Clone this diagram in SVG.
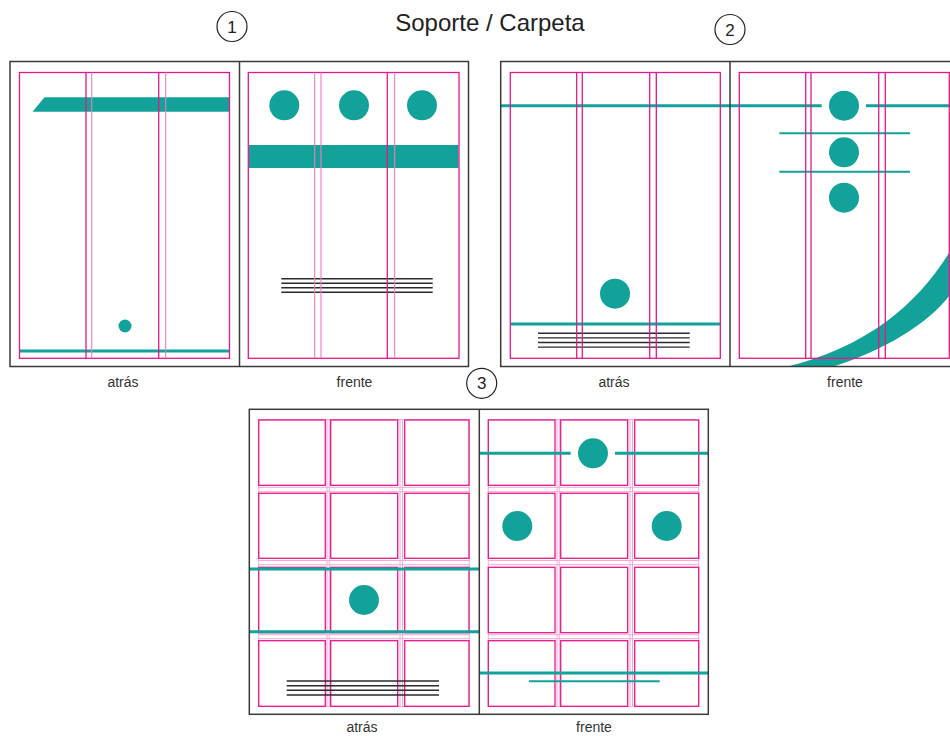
<svg xmlns="http://www.w3.org/2000/svg" width="950" height="736" viewBox="0 0 950 736">
<style>
.frame{fill:none;stroke:#3a3a3a;stroke-width:1.5}
.pk{fill:none;stroke:#e8168b;stroke-width:1.3}
.pkl{fill:none;stroke:#f27bbd;stroke-width:1.1}
.pkf{fill:none;stroke:#f7a8d4;stroke-width:1}
.teal{fill:#13a29a}
.tl{stroke:#13a29a;stroke-width:3;fill:none}
.tlt{stroke:#13a29a;stroke-width:2;fill:none}
.blk{stroke:#2a2a2a;stroke-width:1.4;fill:none}
.lbl{font-family:"Liberation Sans",Arial,sans-serif;font-size:14px;fill:#333;text-anchor:middle}
.num{font-family:"Liberation Sans",Arial,sans-serif;font-size:17px;fill:#222;text-anchor:middle}
.ring{fill:none;stroke:#222;stroke-width:1.2}
</style>
<rect width="950" height="736" fill="#fff"/>
<text x="490" y="31" font-family="'Liberation Sans',Arial,sans-serif" font-size="24" fill="#222" text-anchor="middle">Soporte / Carpeta</text>

<g id="n1">
  <circle class="ring" cx="232" cy="26.5" r="15"/>
  <text class="num" x="232" y="32.5">1</text>
  <polygon class="teal" points="32.5,111.7 44.5,97.3 229.5,97.3 229.5,111.7"/>
  <circle class="teal" cx="125" cy="326" r="6.5"/>
  <line class="tl" x1="19.5" y1="351" x2="229.5" y2="351"/>
  <rect class="pk" x="19.5" y="72.5" width="210" height="285.8"/>
  <line class="pk" x1="86" y1="72.5" x2="86" y2="358.3"/>
  <line class="pkl" x1="91.7" y1="72.5" x2="91.7" y2="358.3"/>
  <line class="pk" x1="158.7" y1="72.5" x2="158.7" y2="358.3"/>
  <line class="pkl" x1="165.7" y1="72.5" x2="165.7" y2="358.3"/>
  <circle class="teal" cx="284.3" cy="105.3" r="15"/>
  <circle class="teal" cx="354" cy="105.3" r="15"/>
  <circle class="teal" cx="422" cy="105.3" r="15"/>
  <rect class="teal" x="249" y="145" width="209.5" height="23"/>
  <line class="blk" x1="281.3" y1="278.7" x2="432.7" y2="278.7"/>
  <line class="blk" x1="281.3" y1="283.2" x2="432.7" y2="283.2"/>
  <line class="blk" x1="281.3" y1="287.8" x2="432.7" y2="287.8"/>
  <line class="blk" x1="281.3" y1="292.3" x2="432.7" y2="292.3"/>
  <rect class="pk" x="248.3" y="72.5" width="210.7" height="285.8"/>
  <line class="pkl" x1="314.7" y1="72.5" x2="314.7" y2="358.3"/>
  <line class="pkl" x1="321" y1="72.5" x2="321" y2="358.3"/>
  <line class="pk" x1="387.3" y1="72.5" x2="387.3" y2="358.3"/>
  <line class="pkl" x1="394.7" y1="72.5" x2="394.7" y2="358.3"/>
  <rect class="frame" x="10" y="61.5" width="458.5" height="305"/>
  <line class="frame" x1="239.5" y1="61.5" x2="239.5" y2="366.5"/>
  <text class="lbl" x="123" y="387">atrás</text>
  <text class="lbl" x="354.5" y="387">frente</text>
</g>

<g id="n2">
  <circle class="ring" cx="730" cy="29.5" r="15"/>
  <text class="num" x="730" y="35.5">2</text>
  <line class="tl" x1="500.7" y1="105.8" x2="821.7" y2="105.8"/>
  <line class="tl" x1="866" y1="105.8" x2="950" y2="105.8"/>
  <circle class="teal" cx="615" cy="293.7" r="15"/>
  <line class="tl" x1="510.3" y1="324" x2="720.3" y2="324"/>
  <line class="blk" x1="538" y1="333.3" x2="689.7" y2="333.3"/>
  <line class="blk" x1="538" y1="337.9" x2="689.7" y2="337.9"/>
  <line class="blk" x1="538" y1="342.5" x2="689.7" y2="342.5"/>
  <line class="blk" x1="538" y1="347.1" x2="689.7" y2="347.1"/>
  <rect class="pk" x="510.3" y="72.5" width="210" height="285.8"/>
  <line class="pk" x1="576.7" y1="72.5" x2="576.7" y2="358.3"/>
  <line class="pk" x1="582.3" y1="72.5" x2="582.3" y2="358.3"/>
  <line class="pk" x1="649.7" y1="72.5" x2="649.7" y2="358.3"/>
  <line class="pk" x1="656.3" y1="72.5" x2="656.3" y2="358.3"/>
  <circle class="teal" cx="844" cy="105.7" r="15"/>
  <circle class="teal" cx="844" cy="152.3" r="15"/>
  <circle class="teal" cx="844" cy="197.7" r="15"/>
  <line class="tlt" x1="779.3" y1="133.3" x2="910" y2="133.3"/>
  <line class="tlt" x1="779.3" y1="171.7" x2="910" y2="171.7"/>
  <path class="teal" d="M 952 248 C 920 302, 870 346, 786 367 L 832 367 C 882 352, 932 322, 952 292 Z"/>
  <rect class="pk" x="739.3" y="72.5" width="210" height="285.8"/>
  <line class="pk" x1="805.7" y1="72.5" x2="805.7" y2="358.3"/>
  <line class="pk" x1="811" y1="72.5" x2="811" y2="358.3"/>
  <line class="pk" x1="878.7" y1="72.5" x2="878.7" y2="358.3"/>
  <line class="pk" x1="885.3" y1="72.5" x2="885.3" y2="358.3"/>
  <rect fill="#fff" x="700" y="367.3" width="250" height="10"/>
  <rect class="frame" x="500.7" y="61.5" width="460" height="305"/>
  <line class="frame" x1="730" y1="61.5" x2="730" y2="366.5"/>
  <text class="lbl" x="614" y="387">atrás</text>
  <text class="lbl" x="845" y="387">frente</text>
</g>

<g id="n3">
  <circle class="ring" cx="481.7" cy="383.3" r="15"/>
  <text class="num" x="481.7" y="389.3">3</text>
  <rect class="pkf" x="258.7" y="419.5" width="210.6" height="287"/>
  <line class="pkf" x1="327" y1="419.5" x2="327" y2="706.5"/>
  <line class="pkf" x1="329.3" y1="419.5" x2="329.3" y2="706.5"/>
  <line class="pkf" x1="400" y1="419.5" x2="400" y2="706.5"/>
  <line class="pkf" x1="402.5" y1="419.5" x2="402.5" y2="706.5"/>
  <line class="pkf" x1="258.7" y1="487.3" x2="469.3" y2="487.3"/>
  <line class="pkf" x1="258.7" y1="491.7" x2="469.3" y2="491.7"/>
  <line class="pkf" x1="258.7" y1="560.5" x2="469.3" y2="560.5"/>
  <line class="pkf" x1="258.7" y1="564.7" x2="469.3" y2="564.7"/>
  <line class="pkf" x1="258.7" y1="634.7" x2="469.3" y2="634.7"/>
  <line class="pkf" x1="258.7" y1="638.7" x2="469.3" y2="638.7"/>
  <g class="pk">
    <rect x="258.7" y="420" width="66.6" height="65.3"/>
    <rect x="330.7" y="420" width="67" height="65.3"/>
    <rect x="404.7" y="420" width="64.3" height="65.3"/>
    <rect x="258.7" y="493.3" width="66.6" height="65"/>
    <rect x="330.7" y="493.3" width="67" height="65"/>
    <rect x="404.7" y="493.3" width="64.3" height="65"/>
    <rect x="258.7" y="567.3" width="66.6" height="65.4"/>
    <rect x="330.7" y="567.3" width="67" height="65.4"/>
    <rect x="404.7" y="567.3" width="64.3" height="65.4"/>
    <rect x="258.7" y="640.7" width="66.6" height="65.6"/>
    <rect x="330.7" y="640.7" width="67" height="65.6"/>
    <rect x="404.7" y="640.7" width="64.3" height="65.6"/>
  </g>
  <line class="tl" x1="249.3" y1="569" x2="479.3" y2="569"/>
  <line class="tl" x1="249.3" y1="631.7" x2="479.3" y2="631.7"/>
  <circle class="teal" cx="364" cy="600" r="15"/>
  <line class="blk" x1="286.7" y1="681" x2="439" y2="681"/>
  <line class="blk" x1="286.7" y1="685.7" x2="439" y2="685.7"/>
  <line class="blk" x1="286.7" y1="690.3" x2="439" y2="690.3"/>
  <line class="blk" x1="286.7" y1="695" x2="439" y2="695"/>
  <rect class="pkf" x="488.3" y="419.5" width="210.4" height="287"/>
  <line class="pkf" x1="557" y1="419.5" x2="557" y2="706.5"/>
  <line class="pkf" x1="559.3" y1="419.5" x2="559.3" y2="706.5"/>
  <line class="pkf" x1="630" y1="419.5" x2="630" y2="706.5"/>
  <line class="pkf" x1="632.5" y1="419.5" x2="632.5" y2="706.5"/>
  <line class="pkf" x1="488.3" y1="487.3" x2="698.7" y2="487.3"/>
  <line class="pkf" x1="488.3" y1="491.7" x2="698.7" y2="491.7"/>
  <line class="pkf" x1="488.3" y1="560.5" x2="698.7" y2="560.5"/>
  <line class="pkf" x1="488.3" y1="564.7" x2="698.7" y2="564.7"/>
  <line class="pkf" x1="488.3" y1="634.7" x2="698.7" y2="634.7"/>
  <line class="pkf" x1="488.3" y1="638.7" x2="698.7" y2="638.7"/>
  <g class="pk">
    <rect x="488.3" y="420" width="66.7" height="65.3"/>
    <rect x="560.7" y="420" width="67" height="65.3"/>
    <rect x="634.7" y="420" width="64" height="65.3"/>
    <rect x="488.3" y="493.3" width="66.7" height="65"/>
    <rect x="560.7" y="493.3" width="67" height="65"/>
    <rect x="634.7" y="493.3" width="64" height="65"/>
    <rect x="488.3" y="567.3" width="66.7" height="65.4"/>
    <rect x="560.7" y="567.3" width="67" height="65.4"/>
    <rect x="634.7" y="567.3" width="64" height="65.4"/>
    <rect x="488.3" y="640.7" width="66.7" height="65.6"/>
    <rect x="560.7" y="640.7" width="67" height="65.6"/>
    <rect x="634.7" y="640.7" width="64" height="65.6"/>
  </g>
  <line class="tl" x1="479.3" y1="453.3" x2="570.7" y2="453.3"/>
  <line class="tl" x1="615" y1="453.3" x2="708.3" y2="453.3"/>
  <circle class="teal" cx="593" cy="453.3" r="15"/>
  <circle class="teal" cx="517.3" cy="526" r="15"/>
  <circle class="teal" cx="666.7" cy="526" r="15"/>
  <line class="tl" x1="479.3" y1="673" x2="708.3" y2="673"/>
  <line class="tlt" x1="529" y1="681.3" x2="659.7" y2="681.3"/>
  <rect class="frame" x="249.3" y="409.3" width="459" height="305"/>
  <line class="frame" x1="479.3" y1="409.3" x2="479.3" y2="714.3"/>
  <text class="lbl" x="362" y="732">atrás</text>
  <text class="lbl" x="594" y="732">frente</text>
</g>
</svg>
